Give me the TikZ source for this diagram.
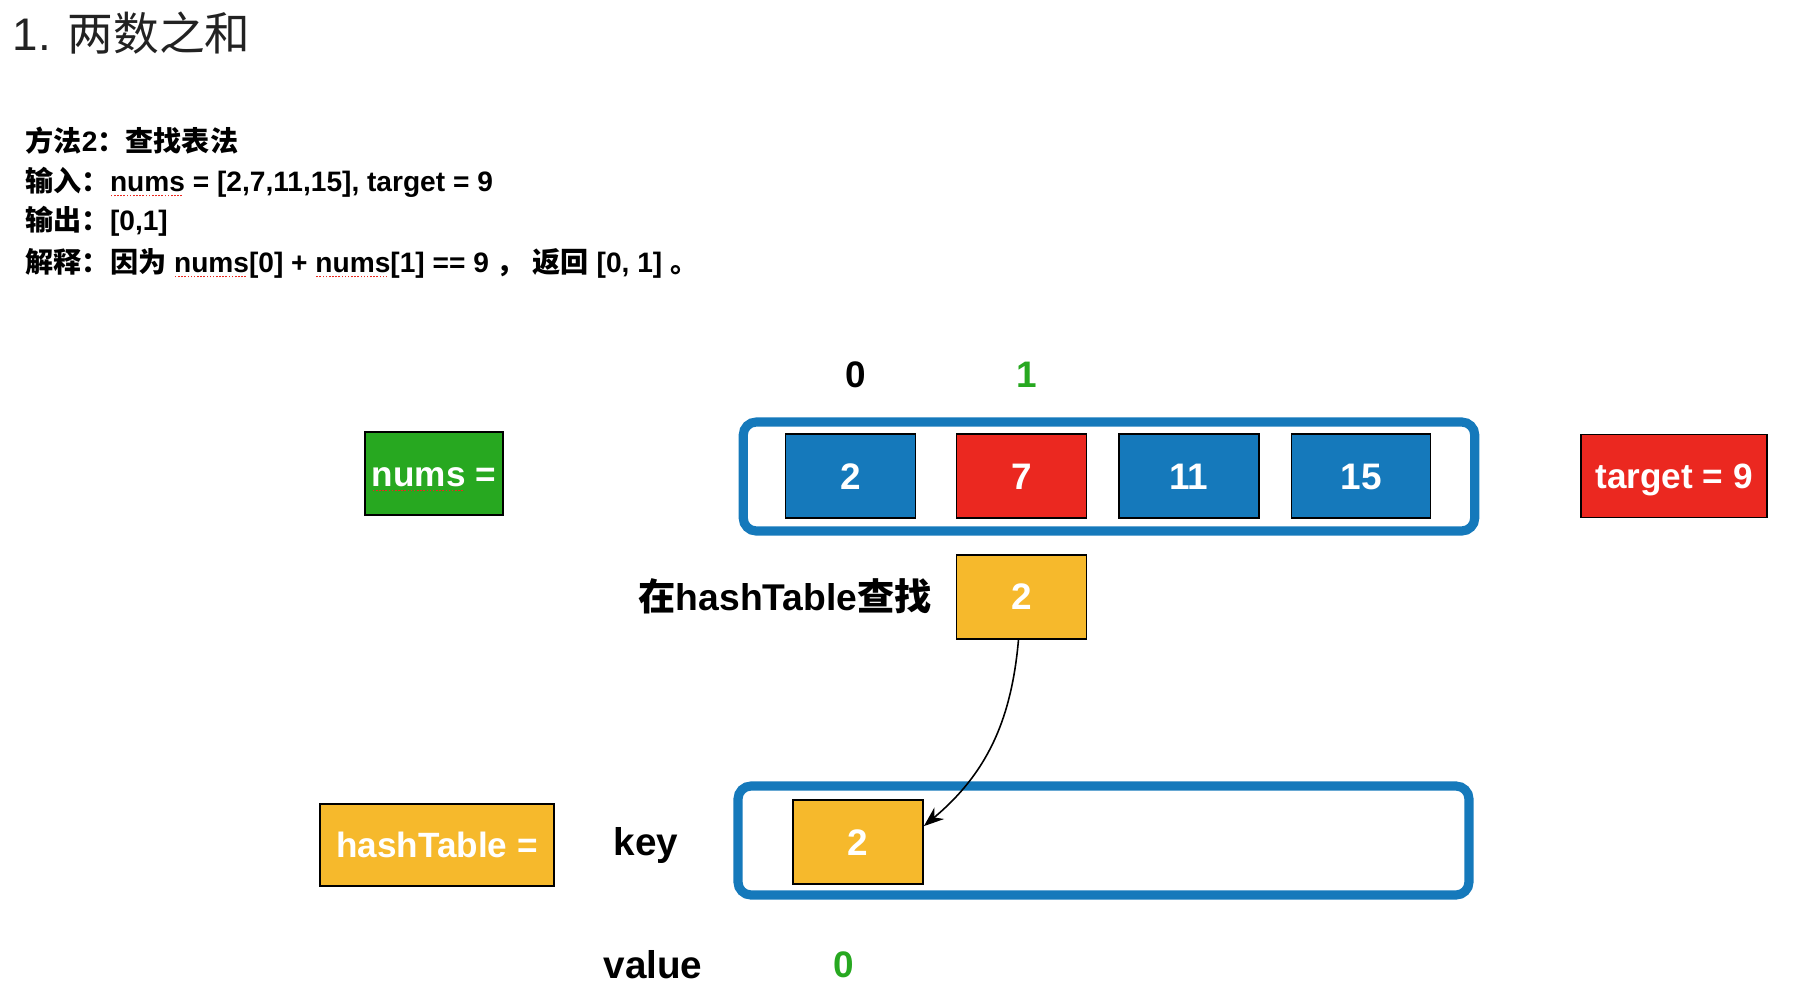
\documentclass[tikz,border=0pt]{standalone}
\usepackage{fontspec}
\setmainfont{Liberation Sans}
\newfontfamily\cjk{Noto Sans CJK SC}
\usetikzlibrary{positioning,arrows.meta}

\definecolor{arrblue}{HTML}{1579BB}
\definecolor{numred}{HTML}{EB2820}
\definecolor{numgreen}{HTML}{27A820}
\definecolor{keyyellow}{HTML}{F6B92C}
\definecolor{titlegray}{HTML}{222222}

% red dotted spell-check mark under a word
\newcommand\spell[1]{\setbox0=\hbox{#1}\rlap{\color{numred}\raisebox{-1.5pt}{\hbox to \wd0{\leaders\hbox to 0.9pt{\hss\vrule width 0.45pt height 0.45pt\hss}\hfil}}}\box0\relax}

\tikzset{
  desc/.style={anchor=base west,inner sep=0pt,font=\bfseries\fontsize{8}{10}\selectfont},
  cell/.style={draw=black,line width=0.5pt,minimum width=1.30cm,minimum height=0.84cm,
    inner sep=0pt,text=white,font=\bfseries\fontsize{10.5}{12}\selectfont,
    text height=7.5pt,text depth=0pt},
  tag/.style={cell,minimum height=0.83cm,font=\bfseries\fontsize{10}{12}\selectfont,text height=7.2pt},
  container/.style={draw=arrblue,line width=2.6pt,rounded corners=0.13cm,inner sep=0pt},
  index/.style={inner sep=0pt,font=\bfseries\fontsize{10.5}{12}\selectfont},
  note/.style={inner sep=0pt,font=\bfseries\fontsize{11}{13}\selectfont},
  link/.style={-{Stealth[length=2mm,width=1.5mm]},line width=0.45pt}
}

\begin{document}
\begin{tikzpicture}
  \useasboundingbox (0,0) rectangle (18,-10.04);

  \node (title) [anchor=base west,inner sep=0pt,text=titlegray,font=\fontsize{13}{16}\selectfont] at (0.12,-0.50) {1. {\cjk 两数之和}};

  \node (method) [desc] at (0.25,-1.51) {{\cjk 方法}2{\cjk ：查找表法}};
  \node (input) [desc] at (0.25,-1.91) {{\cjk 输入：}\spell{nums} = [2,7,11,15], target = 9};
  \node (output) [desc] at (0.25,-2.30) {{\cjk 输出：}[0,1]};
  \node (explain) [desc] at (0.25,-2.72) {{\cjk 解释：因为} \spell{nums}[0] + \spell{nums}[1] == 9 {\cjk ，} {\cjk 返回} [0, 1] {\cjk 。}};

  % the array
  \node (arr) [container,minimum width=7.315cm,minimum height=1.09cm] at (11.09,-4.765) {};
  \node (num0) [cell,fill=arrblue] at (8.505,-4.76) {2};
  \node (num1) [cell,fill=numred] at (10.215,-4.76) {7};
  \node (num2) [cell,fill=arrblue,minimum width=1.40cm] at (11.89,-4.76) {11};
  \node (num3) [cell,fill=arrblue,minimum width=1.39cm] at (13.61,-4.76) {15};

  \node (idx0) [index,anchor=base] at ([xshift=0.05cm,yshift=0.46cm]num0.north) {0};
  \node (idx1) [index,anchor=base,text=numgreen] at ([xshift=0.05cm,yshift=0.46cm]num1.north) {1};

  \node (numstag) [tag,fill=numgreen,minimum width=1.38cm] at (4.34,-4.735) {\spell{nums} =};
  \node (target) [tag,fill=numred,minimum width=1.86cm] at (16.74,-4.76) {target = 9};

  % lookup
  \node (probe) [cell,fill=keyyellow,below=0.35cm of num1] {2};
  \node (probenote) [note,left=0.23cm of probe,font=\bfseries\fontsize{10.6}{13}\selectfont] {{\cjk 在}hashTable{\cjk 查找}};

  % the hash table
  \node (table) [container,minimum width=7.31cm,minimum height=1.09cm] at (11.035,-8.405) {};
  \node (key0) [cell,fill=keyyellow] at (8.58,-8.42) {2};
  \node (tabletag) [tag,fill=keyyellow,minimum width=2.34cm,minimum height=0.82cm] at (4.37,-8.45) {hashTable =};
  \node (keynote) [note,anchor=base] at (6.46,-8.55) {key};
  \node (valuenote) [note,anchor=base] at (6.53,-9.78) {value};
  \node (value0) [index,anchor=base,text=numgreen] at (8.44,-9.77) {0};

  \draw[link] ([xshift=-0.03cm]probe.south) to[out=-95,in=40] ([yshift=-0.27cm]key0.north east);
\end{tikzpicture}
\end{document}
